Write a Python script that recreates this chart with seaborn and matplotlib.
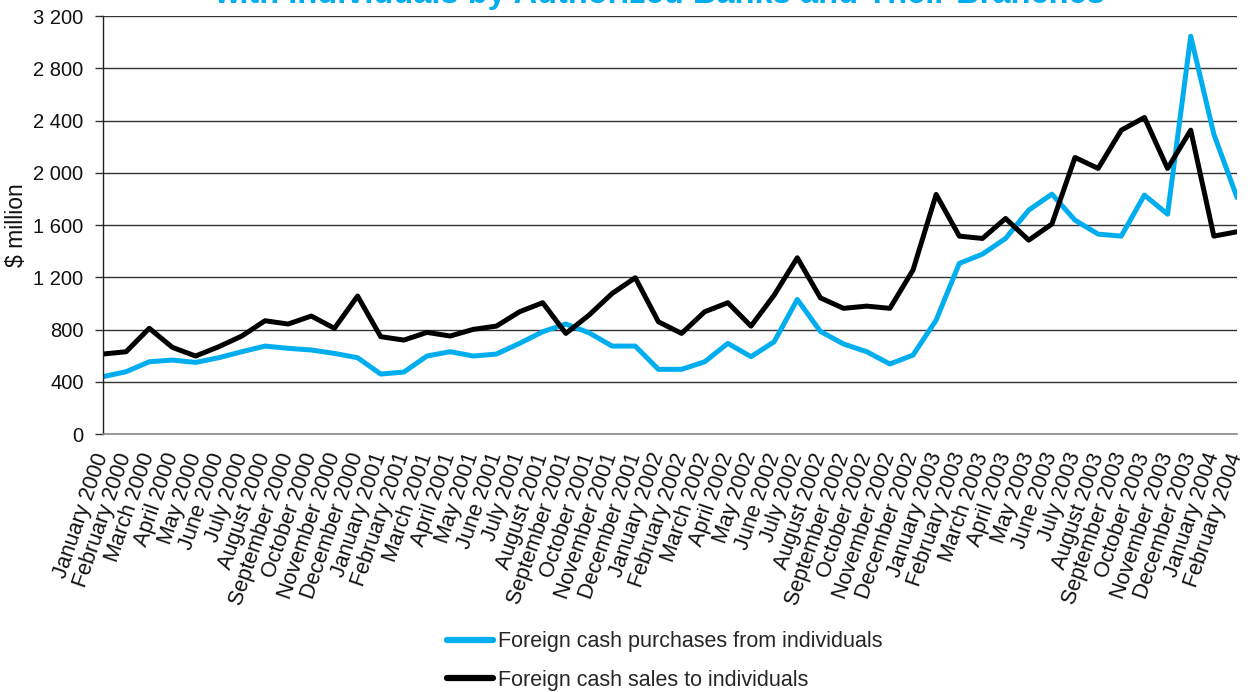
import matplotlib
matplotlib.use("Agg")
import matplotlib.pyplot as plt
import seaborn as sns
import pandas as pd
import numpy as np

months = [
    "January 2000", "February 2000", "March 2000", "April 2000", "May 2000", "June 2000",
    "July 2000", "August 2000", "September 2000", "October 2000", "November 2000", "December 2000",
    "January 2001", "February 2001", "March 2001", "April 2001", "May 2001", "June 2001",
    "July 2001", "August 2001", "September 2001", "October 2001", "November 2001", "December 2001",
    "January 2002", "February 2002", "March 2002", "April 2002", "May 2002", "June 2002",
    "July 2002", "August 2002", "September 2002", "October 2002", "November 2002", "December 2002",
    "January 2003", "February 2003", "March 2003", "April 2003", "May 2003", "June 2003",
    "July 2003", "August 2003", "September 2003", "October 2003", "November 2003", "December 2003",
    "January 2004", "February 2004",
]

purchases = [
    439, 477, 553, 566, 548, 584, 630, 673, 656, 643, 617, 584,
    459, 474, 597, 630, 597, 612, 694, 783, 842, 775, 673, 673,
    495, 495, 553, 694, 592, 706, 1030, 785, 689, 630, 536, 604,
    872, 1306, 1377, 1497, 1714, 1836, 1637, 1530, 1515, 1829, 1683, 3045,
    2295, 1811,
]

sales = [
    612, 630, 809, 663, 597, 668, 750, 867, 842, 903, 809, 1056,
    745, 719, 778, 750, 801, 826, 936, 1005, 770, 910, 1076, 1196,
    859, 770, 936, 1005, 826, 1063, 1349, 1042, 962, 979, 962, 1255,
    1834, 1515, 1497, 1650, 1484, 1607, 2117, 2033, 2326, 2423, 2033, 2326,
    1515, 1548,
]

series_names = ["Foreign cash purchases from individuals", "Foreign cash sales to individuals"]
colors = ["#00AEEF", "#000000"]
yticks = [0, 400, 800, 1200, 1600, 2000, 2400, 2800, 3200]
title = "with Individuals by Authorized Banks and Their Branches"

df = pd.DataFrame({
    "idx": list(range(len(months))) * 2,
    "value": purchases + sales,
    "series": [series_names[0]] * len(months) + [series_names[1]] * len(months),
})

sns.set_theme(style="white")
plt.rcParams["font.family"] = ["Liberation Sans", "DejaVu Sans"]

fig = plt.figure(figsize=(12.56, 6.92), dpi=100)
ax = fig.add_axes([103 / 1256, 1 - 434 / 692, (1237 - 103) / 1256, (434 - 16) / 692])

sns.lineplot(data=df, x="idx", y="value", hue="series", palette=colors,
             linewidth=3.6, ax=ax, legend=False, sort=False)

ax.set_xlim(0, len(months) - 1)
ax.set_ylim(0, 3200)
ax.set_yticks(yticks)
ax.set_yticklabels([f"{v:,}".replace(",", " ") for v in yticks], fontsize=14.5, color="#111111")
ax.set_xticks(range(len(months)))
ax.set_xticklabels(months, rotation=71, ha="right", va="center", rotation_mode="anchor",
                   fontsize=15.5, color="#111111")
ax.tick_params(axis="x", direction="out", length=6, width=1, color="#555555", pad=8)
ax.tick_params(axis="y", direction="out", length=6, width=1, color="#333333", pad=8, left=True)
ax.set_xlabel("")
ax.set_ylabel("$ million", fontsize=16.5, color="#111111", labelpad=4)

for y in yticks[1:]:
    ax.axhline(y, color="#333333", linewidth=1.0, zorder=0)

for s in ["top", "right"]:
    ax.spines[s].set_visible(False)
ax.spines["left"].set_color("#222222")
ax.spines["left"].set_linewidth(1.0)
ax.spines["bottom"].set_color("#888888")
ax.spines["bottom"].set_linewidth(1.2)

handles = [plt.Line2D([], [], color=c, linewidth=4.5, solid_capstyle="round") for c in colors]
fig.legend(handles, series_names, loc="center left",
           bbox_to_anchor=(447 / 1256, 1 - 661 / 692), frameon=False,
           fontsize=15.5, handlelength=2.15, handletextpad=0.2, labelspacing=0.8,
           borderpad=0, borderaxespad=0)

fig.text(660 / 1256, 1 - 3 / 692, title, ha="center", va="baseline", fontsize=23.5,
         fontweight="bold", color="#00AEEF")

fig.savefig("out.png", dpi=100)
